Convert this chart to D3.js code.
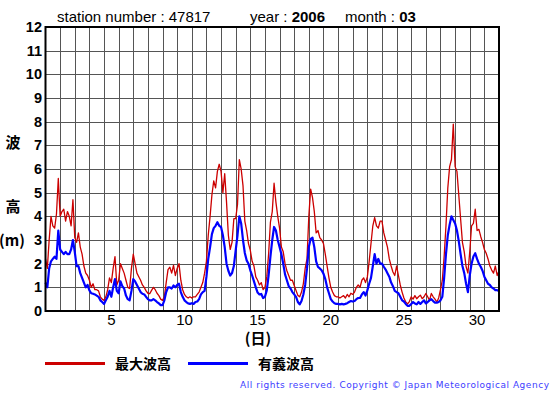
<!DOCTYPE html>
<html>
<head>
<meta charset="utf-8">
<script src="https://cdn.jsdelivr.net/npm/d3@7"></script>
<style>
  body { margin: 0; background: #fff; }
  svg { display: block; }
</style>
</head>
<body>
<script>
// 3-hourly readings, day 1 00h .. day 32 00h
var maxWave = [
  2.2, 1.8, 3.0, 4.0, 3.6, 3.5, 4.1, 5.6,      // 1
  4.0, 4.2, 4.3, 3.8, 4.2, 4.0, 3.6, 4.7,      // 2
  3.1, 2.9, 3.3, 2.7, 2.4, 1.9, 1.6, 1.5,      // 3
  1.3, 1.0, 1.15, 0.9, 0.9, 0.85, 0.6, 0.5,    // 4
  0.45, 0.6, 0.9, 1.4, 1.2, 1.8, 2.3, 1.1,     // 5
  1.3, 2.0, 1.8, 1.6, 1.3, 1.0, 0.95, 1.8,     // 6
  2.4, 2.0, 1.6, 1.45, 1.3, 1.1, 1.0, 0.85,    // 7
  0.75, 0.73, 0.87, 1.0, 0.9, 0.75, 0.65, 0.5, // 8
  0.45, 0.6, 1.2, 1.75, 1.85, 1.6, 1.93, 1.5,  // 9
  1.8, 2.0, 1.3, 0.9, 0.7, 0.6, 0.55, 0.6,     // 10
  0.55, 0.6, 0.6, 0.7, 0.8, 1.0, 1.2, 1.6,     // 11
  2.1, 3.2, 4.0, 4.9, 5.5, 5.2, 5.9, 6.2,      // 12
  5.9, 5.0, 5.8, 4.6, 3.2, 2.6, 2.9, 3.9,      // 13
  3.9, 4.5, 6.4, 6.0, 5.3, 3.8, 3.4, 2.85,     // 14
  2.56, 2.1, 1.9, 1.44, 1.3, 1.1, 1.2, 0.9,    // 15
  1.0, 1.44, 2.4, 3.75, 4.2, 5.4, 4.6, 4.0,    // 16
  3.5, 2.7, 2.5, 2.0, 1.7, 1.5, 1.3, 1.3,      // 17
  1.08, 0.87, 0.66, 0.6, 0.8, 1.15, 1.8, 2.2,  // 18
  4.0, 5.15, 4.8, 4.2, 3.3, 3.4, 3.1, 3.0,     // 19
  2.85, 2.4, 1.9, 1.4, 1.0, 0.8, 0.65, 0.6,    // 20
  0.6, 0.55, 0.6, 0.65, 0.55, 0.7, 0.6, 0.75,  // 21
  0.7, 0.8, 1.0, 1.1, 1.0, 1.3, 1.4, 1.2,      // 22
  1.44, 2.1, 2.85, 3.6, 3.95, 3.6, 3.5, 3.8,   // 23
  3.8, 3.3, 3.0, 2.7, 2.2, 1.9, 1.65, 1.5,     // 24
  1.9, 1.5, 1.1, 0.8, 0.55, 0.38, 0.3, 0.4,    // 25
  0.6, 0.5, 0.65, 0.52, 0.6, 0.67, 0.52, 0.6,  // 26
  0.74, 0.6, 0.45, 0.74, 0.6, 0.5, 0.38, 0.55, // 27
  0.9, 1.3, 2.3, 3.6, 5.2, 6.1, 6.4, 7.9,      // 28
  6.1, 5.9, 4.9, 3.9, 2.9, 2.5, 1.87, 1.6,     // 29
  2.5, 3.6, 3.7, 4.3, 3.4, 3.45, 3.15, 2.9,    // 30
  2.6, 2.44, 2.2, 1.9, 1.73, 1.6, 1.9, 1.5,    // 31
  1.7
];
var sigWave = [
  1.2, 1.0, 1.8, 2.1, 2.2, 2.3, 2.2, 3.4,
  2.6, 2.5, 2.4, 2.5, 2.4, 2.4, 2.6, 3.0,
  2.5, 1.9, 1.9, 1.6, 1.4, 1.2, 1.0, 1.1,
  0.87, 0.75, 0.73, 0.7, 0.65, 0.6, 0.45, 0.38,
  0.3, 0.45, 0.6, 0.85, 0.6, 1.0, 1.35, 0.85,
  0.75, 1.25, 1.05, 0.95, 0.65, 0.5, 0.45, 0.85,
  1.35, 1.25, 1.1, 0.95, 0.8, 0.73, 0.7, 0.6,
  0.5, 0.45, 0.45, 0.5, 0.45, 0.38, 0.32, 0.25,
  0.25, 0.45, 0.8, 1.0, 1.0, 0.95, 1.08, 1.0,
  1.1, 1.15, 0.8, 0.6, 0.45, 0.38, 0.32, 0.3,
  0.33, 0.3, 0.38, 0.4, 0.5, 0.7, 0.8, 0.85,
  1.44, 2.2, 2.7, 3.25, 3.5, 3.6, 3.75, 3.6,
  3.55, 3.2, 2.7, 2.0, 1.7, 1.5, 1.6, 1.9,
  2.56, 3.2, 4.0, 3.7, 3.0, 2.45, 2.14, 2.0,
  1.72, 1.5, 1.25, 1.0, 0.78, 0.7, 0.72, 0.55,
  0.6, 0.87, 1.5, 2.3, 3.0, 3.55, 3.4, 3.0,
  2.7, 2.4, 2.0, 1.55, 1.3, 1.05, 0.95, 0.8,
  0.7, 0.6, 0.38, 0.28, 0.42, 0.7, 1.1, 1.8,
  2.7, 3.05, 3.1, 2.7, 2.1, 1.86, 1.8, 1.72,
  1.58, 1.35, 1.0, 0.75, 0.5, 0.4, 0.33, 0.3,
  0.3, 0.28, 0.3, 0.28, 0.3, 0.33, 0.38, 0.42,
  0.4, 0.42, 0.5, 0.55, 0.55, 0.7, 0.8, 0.65,
  0.87, 1.15, 1.4, 1.9, 2.4, 2.0, 2.2, 2.0,
  2.0, 1.87, 1.75, 1.6, 1.45, 1.2, 1.05, 0.85,
  0.8, 0.75, 0.6, 0.45, 0.4, 0.3, 0.22, 0.22,
  0.3, 0.38, 0.32, 0.28, 0.38, 0.3, 0.38, 0.45,
  0.32, 0.38, 0.45, 0.5, 0.42, 0.35, 0.35, 0.38,
  0.45, 0.6, 1.4, 2.4, 3.2, 3.65, 4.0, 3.85,
  3.7, 3.4, 2.95, 2.4, 1.9, 1.6, 1.15, 0.8,
  1.5, 2.0, 2.3, 2.44, 2.2, 2.0, 1.87, 1.7,
  1.45, 1.3, 1.15, 1.1, 1.0, 0.95, 0.88, 0.88,
  0.85
];
var dayTicks = [5, 10, 15, 20, 25, 30];
var heightTicks = d3.range(0, 13);

var W = 555, H = 395;
var plotL = 45.5, plotR = 499, plotT = 27, plotB = 311;

var svg = d3.select("body").append("svg")
    .attr("width", W)
    .attr("height", H)
    .style("font-family", "'Liberation Sans', Arial, sans-serif");

var x = d3.scaleLinear().domain([1, 32]).range([plotL, plotR]);
var y = d3.scaleLinear().domain([0, 12]).range([plotB, plotT]);

// title
var title = svg.append("text").attr("y", 22).attr("font-size", 15).attr("fill", "#000");
title.append("tspan").attr("x", 57).text("station number : 47817");
title.append("tspan").attr("x", 250).text("year : ");
title.append("tspan").attr("font-weight", "bold").text("2006");
title.append("tspan").attr("x", 345).text("month : ");
title.append("tspan").attr("font-weight", "bold").text("03");

// grid
svg.append("g").selectAll("line").data(d3.range(2, 32)).enter().append("line")
    .attr("x1", function(d) { return Math.round(x(d)) + 0.5; })
    .attr("x2", function(d) { return Math.round(x(d)) + 0.5; })
    .attr("y1", plotT).attr("y2", plotB)
    .attr("stroke", "#555").attr("stroke-width", 1);
svg.append("g").selectAll("line").data(d3.range(1, 12)).enter().append("line")
    .attr("y1", function(d) { return Math.round(y(d)) + 0.5; })
    .attr("y2", function(d) { return Math.round(y(d)) + 0.5; })
    .attr("x1", plotL).attr("x2", plotR)
    .attr("stroke", "#555").attr("stroke-width", 1);

// y axis labels
svg.append("g").selectAll("text").data(heightTicks).enter().append("text")
    .attr("x", 42)
    .attr("y", function(d) { return y(d) + 5; })
    .attr("text-anchor", "end")
    .attr("font-size", 14.5)
    .attr("font-weight", "bold")
    .text(function(d) { return d; });

// x axis labels (centred in day)
svg.append("g").selectAll("text").data(dayTicks).enter().append("text")
    .attr("x", function(d) { return x(d + 0.5); })
    .attr("y", 325)
    .attr("text-anchor", "middle")
    .attr("font-size", 15)
    .text(function(d) { return d; });

// series
var line = d3.line()
    .x(function(d, i) { return x(1 + i / 8); })
    .y(function(d) { return y(d); });

svg.append("path").datum(maxWave)
    .attr("d", line)
    .attr("fill", "none")
    .attr("stroke", "#cc0000")
    .attr("stroke-width", 1.3)
    .attr("stroke-linejoin", "round");
svg.append("path").datum(sigWave)
    .attr("d", line)
    .attr("fill", "none")
    .attr("stroke", "#0000ff")
    .attr("stroke-width", 2.2)
    .attr("stroke-linejoin", "round");

// frame
svg.append("rect")
    .attr("x", plotL).attr("y", plotT)
    .attr("width", plotR - plotL).attr("height", plotB - plotT)
    .attr("fill", "none").attr("stroke", "#000").attr("stroke-width", 2);

// axis titles
var cjk = "'Noto Sans CJK JP', 'Noto Sans CJK SC', sans-serif";
[["波", 148], ["高", 212]].forEach(function(p) {
  svg.append("text").attr("x", 13).attr("y", p[1]).attr("text-anchor", "middle")
      .attr("font-family", cjk).attr("font-size", 15).attr("font-weight", "bold").text(p[0]);
});
svg.append("text").attr("x", 12).attr("y", 246).attr("text-anchor", "middle")
    .attr("font-family", cjk).attr("font-size", 15).attr("font-weight", "bold").text("(m)");
svg.append("text").attr("x", 258).attr("y", 344).attr("text-anchor", "middle")
    .attr("font-family", cjk).attr("font-size", 15).attr("font-weight", "bold").text("(日)");

// legend
var legend = [["最大波高", "#cc0000", 45], ["有義波高", "#0000ff", 188]];
legend.forEach(function(l) {
  svg.append("line").attr("x1", l[2]).attr("x2", l[2] + 60)
      .attr("y1", 363.5).attr("y2", 363.5)
      .attr("stroke", l[1]).attr("stroke-width", 3);
  svg.append("text").attr("x", l[2] + 70).attr("y", 368.5)
      .attr("font-family", cjk).attr("font-size", 14).attr("font-weight", "bold")
      .text(l[0]);
});

// footer
svg.append("text").attr("x", 240).attr("y", 388)
    .attr("font-family", "'DejaVu Sans', Verdana, sans-serif")
    .attr("font-size", 9).attr("fill", "#3c3cff")
    .attr("textLength", 309).attr("lengthAdjust", "spacing")
    .text("All rights reserved. Copyright \u00a9 Japan Meteorological Agency");
</script>
</body>
</html>
